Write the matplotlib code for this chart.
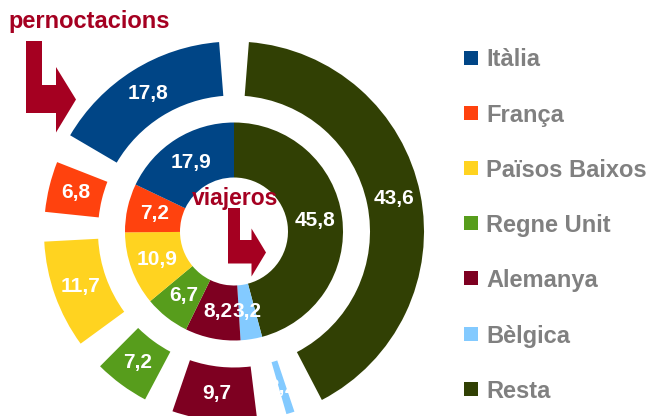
import matplotlib
matplotlib.use('Agg')
import matplotlib.pyplot as plt
import numpy as np
from matplotlib.patches import Wedge, Rectangle, Polygon

plt.rcParams['font.family'] = ['Liberation Sans', 'DejaVu Sans']

categories = ['Itàlia', 'França', 'Països Baixos', 'Regne Unit', 'Alemanya', 'Bèlgica', 'Resta']
colors = ['#004586', '#ff420e', '#ffd320', '#579d1c', '#7e0021', '#83caff', '#314004']

viajeros = [17.9, 7.2, 10.9, 6.7, 8.2, 3.2, 45.8]
pernoctacions = [17.8, 6.8, 11.7, 7.2, 9.7, 3.2, 43.6]

fig = plt.figure(figsize=(6.49, 4.16), dpi=100)
ax = fig.add_axes([0, 0, 1, 1])
ax.set_xlim(0, 649)
ax.set_ylim(416, 0)
ax.axis('off')

cx, cy = 234, 231.5
dark_red = '#a50021'


def ring(values, r_out, width, gap, fontsize):
    # slices go clockwise from the top, starting with "Resta"
    order = list(range(len(values)))[::-1]
    total = sum(values)
    start = 0.0
    for i in order:
        span = values[i] / total * 360
        a1 = start + gap
        a2 = start + span - gap
        # y axis is inverted, so angle increase is clockwise on screen
        ax.add_patch(Wedge((cx, cy), r_out, a1 - 90, a2 - 90, width=width,
                           facecolor=colors[i], edgecolor='none'))
        mid = start + span / 2
        rm = r_out - width / 2
        x = cx + rm * np.cos(np.radians(mid - 90))
        y = cy + rm * np.sin(np.radians(mid - 90))
        ax.text(x, y, f'{values[i]:.1f}'.replace('.', ','), color='white',
                fontsize=fontsize, fontweight='bold', ha='center', va='center')
        start += span


ring(pernoctacions, 190, 54, 4.5, 15)
ring(viajeros, 109, 55, 0, 15)

# bent arrows
ax.add_patch(Polygon([(26, 41), (42, 41), (42, 85), (56, 85), (56, 67), (76, 99.5),
                      (56, 132.5), (56, 113), (26, 113)], closed=True,
                     facecolor=dark_red, edgecolor='none'))
ax.add_patch(Polygon([(228, 208), (240, 208), (240, 240), (251.5, 240), (251.5, 228.5),
                      (266, 252.5), (251.5, 276.5), (251.5, 263.5), (228, 263.5)],
                     closed=True, facecolor=dark_red, edgecolor='none'))

ax.text(8, 28, 'pernoctacions', color=dark_red, fontsize=17, fontweight='bold',
        ha='left', va='baseline')
ax.text(192, 205, 'viajeros', color=dark_red, fontsize=16.5, fontweight='bold',
        ha='left', va='baseline')

# legend
for i, (name, col) in enumerate(zip(categories, colors)):
    y = 57.5 + 55.2 * i
    ax.add_patch(Rectangle((463.5, y - 7), 14, 14, facecolor=col, edgecolor='none'))
    ax.text(486, y, name, color='#808080', fontsize=17, fontweight='bold',
            ha='left', va='center_baseline')

fig.savefig('out.png', dpi=100)
